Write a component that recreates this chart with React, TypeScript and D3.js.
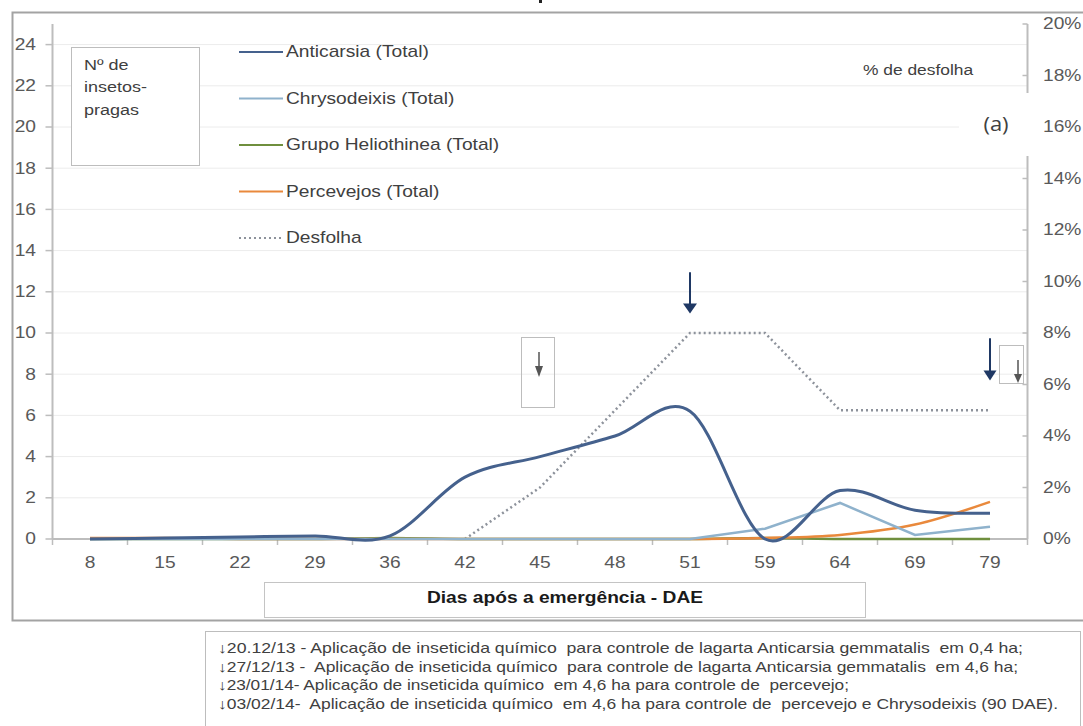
import React from 'react';
import * as d3 from 'd3';

const categories = ['8', '15', '22', '29', '36', '42', '45', '48', '51', '59', '64', '69', '79'];
const anticarsia = [0, 0.05, 0.1, 0.15, 0.15, 3.0, 4.0, 5.0, 6.2, 0, 2.35, 1.4, 1.25];
const chrysodeixis = [0, 0, 0, 0, 0, 0, 0, 0, 0, 0.5, 1.75, 0.2, 0.6];
const heliothinea = [0, 0, 0, 0, 0.05, 0, 0, 0, 0, 0.05, 0, 0, 0];
const percevejos = [0.05, 0.05, 0, 0, 0, 0, 0, 0, 0, 0.05, 0.2, 0.7, 1.8];
const desfolha: (number | null)[] = [null, null, null, null, null, 0, 0.02, 0.05, 0.08, 0.08, 0.05, 0.05, 0.05];

const leftTicks = [0, 2, 4, 6, 8, 10, 12, 14, 16, 18, 20, 22, 24];
const rightTicks = [0, 0.02, 0.04, 0.06, 0.08, 0.1, 0.12, 0.14, 0.16, 0.18, 0.2];

const legendItems = [
  { label: 'Anticarsia (Total)', color: '#45618d', dash: '' },
  { label: 'Chrysodeixis (Total)', color: '#8fb2cc', dash: '' },
  { label: 'Grupo Heliothinea (Total)', color: '#6f8f3e', dash: '' },
  { label: 'Percevejos (Total)', color: '#e9893c', dash: '' },
  { label: 'Desfolha', color: '#8d929b', dash: '2,3' },
];

const notes = [
  '↓20.12/13 - Aplicação de inseticida químico  para controle de lagarta Anticarsia gemmatalis  em 0,4 ha;',
  '↓27/12/13 -  Aplicação de inseticida químico  para controle de lagarta Anticarsia gemmatalis  em 4,6 ha;',
  '↓23/01/14- Aplicação de inseticida químico  em 4,6 ha para controle de  percevejo;',
  '↓03/02/14-  Aplicação de inseticida químico  em 4,6 ha para controle de  percevejo e Chrysodeixis (90 DAE).',
];
const noteWidths = [805, 800, 631, 840];

const FONT = '"Liberation Sans", Arial, sans-serif';

const T = ({ x, y, children, size = 16, anchor = 'start', weight = 'normal', fill = '#595959', family = FONT, sx = 1.2 }: any) => (
  <text
    transform={`translate(${x},${y}) scale(${sx},1)`}
    fontSize={size}
    textAnchor={anchor}
    dominantBaseline="central"
    fontWeight={weight}
    fill={fill}
    fontFamily={family}
    style={{ whiteSpace: 'pre' }}
  >
    {children}
  </text>
);

export default function App() {
  const W = 1083;
  const H = 726;
  const x = d3.scaleBand<string>().domain(categories).range([52.5, 1027.5]).paddingInner(0).paddingOuter(0);
  const cx = (c: string) => (x(c) as number) + x.bandwidth() / 2;
  const yL = d3.scaleLinear().domain([0, 25]).range([539, 24]);
  const yR = d3.scaleLinear().domain([0, 0.2]).range([539, 24]);

  const smooth = d3.line<number>().x((_, i) => cx(categories[i])).y((d) => yL(d)).curve(d3.curveCatmullRom.alpha(0));
  const straight = d3.line<number>().x((_, i) => cx(categories[i])).y((d) => yL(d));
  const desLine = d3
    .line<number | null>()
    .defined((d) => d !== null)
    .x((_, i) => cx(categories[i]))
    .y((d) => yR(d as number));

  const x0 = 52.5;
  const x1 = 1027.5;
  const axisColor = '#bdbdbd';

  const boundaries = [x0, ...categories.map((c) => (x(c) as number) + x.bandwidth())];

  const navyArrows = [
    { cat: '51', from: 12.95, to: 10.95, head: 7 },
    { cat: '79', from: 9.75, to: 7.7, head: 6.5 },
  ];

  return (
    <svg width={W} height={H} style={{ position: 'fixed', left: 0, top: 0, background: '#fff' }} fontFamily={FONT}>
      <rect x={0} y={0} width={W} height={H} fill="#fff" />
      <rect x={539} y={0} width={3} height={3} fill="#222" />
      <rect x={12.5} y={12.5} width={1100} height={608} fill="none" stroke="#a3a3a3" strokeWidth={2} />

      {leftTicks.map((t) => (
        <line key={'g' + t} x1={x0} x2={x1} y1={yL(t)} y2={yL(t)} stroke="#ececec" strokeWidth={1} />
      ))}

      <line x1={x0} x2={x0} y1={24} y2={539} stroke={axisColor} strokeWidth={2} />
      {leftTicks.map((t) => (
        <g key={'l' + t}>
          <line x1={x0 - 7} x2={x0} y1={yL(t)} y2={yL(t)} stroke={axisColor} strokeWidth={1.5} />
          <T x={36} y={yL(t)} anchor="end">{String(t)}</T>
        </g>
      ))}

      <line x1={x1} x2={x1} y1={24} y2={539} stroke={axisColor} strokeWidth={2} />
      {rightTicks.map((t) => (
        <line key={'rt' + t} x1={x1 - 5} x2={x1} y1={yR(t)} y2={yR(t)} stroke={axisColor} strokeWidth={1.5} />
      ))}

      <line x1={x0} x2={x1} y1={539} y2={539} stroke={axisColor} strokeWidth={2} />
      {boundaries.map((b, i) => (
        <line key={'xt' + i} x1={b} x2={b} y1={539} y2={545} stroke={axisColor} strokeWidth={1.5} />
      ))}
      {categories.map((c) => (
        <T key={'xl' + c} x={cx(c)} y={563} anchor="middle">{c}</T>
      ))}

      <path d={desLine(desfolha) || ''} fill="none" stroke="#8d929b" strokeWidth={2.5} strokeDasharray="2,3" />
      <path d={smooth(heliothinea) || ''} fill="none" stroke="#6f8f3e" strokeWidth={2.5} />
      <path d={smooth(percevejos) || ''} fill="none" stroke="#e9893c" strokeWidth={2.5} />
      <path d={straight(chrysodeixis) || ''} fill="none" stroke="#8fb2cc" strokeWidth={2.5} />
      <path d={smooth(anticarsia) || ''} fill="none" stroke="#45618d" strokeWidth={3} />

      <rect x={959} y={93} width={76} height={63} fill="#fff" />
      <T x={996} y={123} size={20} anchor="middle" fill="#404040" family='"Open Sans", sans-serif' sx={1.1}>(a)</T>

      {rightTicks.map((t) => (
        <T key={'rl' + t} x={1043} y={yR(t)}>{`${Math.round(t * 100)}%`}</T>
      ))}

      <rect x={71.5} y={47.5} width={128} height={118} fill="#fff" stroke="#bdbdbd" strokeWidth={1} />
      <T x={84} y={65} size={15} fill="#404040">Nº de</T>
      <T x={84} y={87} size={15} fill="#404040">insetos-</T>
      <T x={84} y={110} size={15} fill="#404040">pragas</T>

      {legendItems.map((it, i) => {
        const ly = 52 + i * 46.5;
        return (
          <g key={'lg' + i}>
            <line x1={239} x2={283} y1={ly} y2={ly} stroke={it.color} strokeWidth={2.2} strokeDasharray={it.dash || undefined} />
            <T x={286} y={ly} fill="#404040">{it.label}</T>
          </g>
        );
      })}

      <T x={863} y={70} size={14.5} fill="#404040">% de desfolha</T>

      {navyArrows.map((a, i) => {
        const ax = cx(a.cat);
        const top = yL(a.from);
        const tip = yL(a.to);
        return (
          <g key={'na' + i}>
            <line x1={ax} x2={ax} y1={top} y2={tip - 8} stroke="#1f3864" strokeWidth={2} />
            <polygon points={`${ax - a.head},${tip - 10} ${ax + a.head},${tip - 10} ${ax},${tip}`} fill="#1f3864" />
          </g>
        );
      })}

      <rect x={521.5} y={337.5} width={33} height={70} fill="none" stroke="#bdbdbd" strokeWidth={1} />
      <line x1={cx('45') - 1} x2={cx('45') - 1} y1={352} y2={370} stroke="#555" strokeWidth={1.5} />
      <polygon points={`${cx('45') - 5},${366} ${cx('45') + 3},${366} ${cx('45') - 1},${377}`} fill="#555" />

      <rect x={999.5} y={345.5} width={24} height={38} fill="none" stroke="#bdbdbd" strokeWidth={1} />
      <line x1={1018} x2={1018} y1={360} y2={378} stroke="#555" strokeWidth={1.5} />
      <polygon points={`1014,374 1022,374 1018,383`} fill="#555" />

      <rect x={264.5} y={582.5} width={601} height={35} fill="#fff" stroke="#c4c4c4" strokeWidth={1} />
      <T x={565} y={598} anchor="middle" weight="bold" fill="#1a1a1a">Dias após a emergência - DAE</T>

      <rect x={205.5} y={631.5} width={875} height={120} fill="#fff" stroke="#bdbdbd" strokeWidth={1} />
      {notes.map((n, i) => (
        <text
          key={'n' + i}
          x={218}
          y={648 + i * 18.5}
          fontSize={14.5}
          dominantBaseline="central"
          fill="#404040"
          textLength={noteWidths[i]}
          lengthAdjust="spacingAndGlyphs"
          style={{ whiteSpace: 'pre' }}
        >
          {n}
        </text>
      ))}
    </svg>
  );
}
